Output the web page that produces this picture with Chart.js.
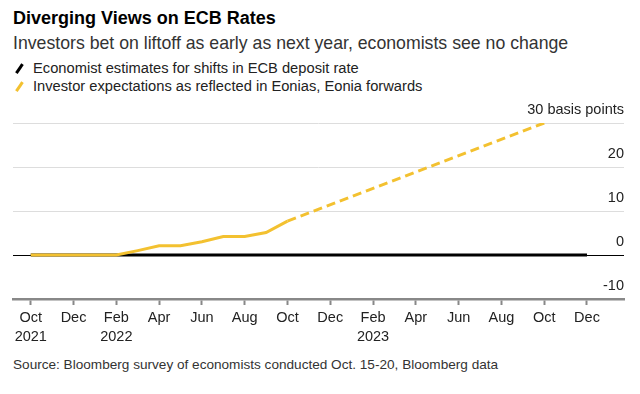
<!DOCTYPE html>
<html>
<head>
<meta charset="utf-8">
<script src="https://cdn.jsdelivr.net/npm/chart.js@4"></script>
<style>
  body { margin: 0; width: 640px; height: 394px; background: #fff; font-family: "Liberation Sans", Arial, sans-serif; color: #222; position: relative; overflow: hidden; }
  .txt { position: absolute; left: 13px; white-space: nowrap; }
  #title { top: 7px; font-size: 18px; line-height: 22px; font-weight: bold; color: #000; }
  #subtitle { top: 32px; font-size: 17.7px; line-height: 22px; color: #333; }
  .leg { font-size: 14.7px; line-height: 18px; color: #222; padding-left: 20px; }
  .leg i { position: absolute; left: 5px; top: 4px; width: 2.5px; height: 11px; transform: rotate(34deg); }
  #leg1 { top: 59px; }
  #leg2 { top: 77px; }
  #source { top: 356px; font-size: 13.6px; line-height: 18px; color: #333; }
  #wrap { position: absolute; left: 0; top: 95px; width: 640px; height: 260px; }
</style>
</head>
<body>
<div id="title" class="txt">Diverging Views on ECB Rates</div>
<div id="subtitle" class="txt">Investors bet on liftoff as early as next year, economists see no change</div>
<div id="leg1" class="txt leg"><i style="background:#000"></i>Economist estimates for shifts in ECB deposit rate</div>
<div id="leg2" class="txt leg"><i style="background:#f3c130"></i>Investor expectations as reflected in Eonias, Eonia forwards</div>
<div id="wrap"><canvas id="chart"></canvas></div>
<div id="source" class="txt">Source: Bloomberg survey of economists conducted Oct. 15-20, Bloomberg data</div>

<script>
// months counted from Oct 2021 (0) to Dec 2023 (26)
const tickMonths = [0, 2, 4, 6, 8, 10, 12, 14, 16, 18, 20, 22, 24, 26];
const tickLabels = [['Oct', '2021'], 'Dec', ['Feb', '2022'], 'Apr', 'Jun', 'Aug', 'Oct', 'Dec', ['Feb', '2023'], 'Apr', 'Jun', 'Aug', 'Oct', 'Dec'];
const yTicks = [-10, 0, 10, 20, 30];

const economistMonths = [0, 26];
const economistValues = [0, 0];

const investorMonths = [0, 1, 2, 3, 4, 5, 6, 7, 8, 9, 10, 11, 12];
const investorValues = [0, 0, 0, 0, 0, 1, 2.1, 2.1, 3, 4.2, 4.2, 5.1, 7.7];

const forwardMonths = [12, 24];
const forwardValues = [7.7, 30];

const yellow = '#f3c130';

function toPoints(xs, ys) {
    return xs.map((x, i) => ({x: x, y: ys[i]}));
}

const ctx = document.getElementById('chart');

new Chart(ctx, {
    type: 'line',
    data: {
        datasets: [{
            label: 'Investor expectations',
            data: toPoints(investorMonths, investorValues),
            borderColor: yellow,
            borderWidth: 3,
            pointRadius: 0,
            order: 1
        }, {
            label: 'Investor forwards',
            data: toPoints(forwardMonths, forwardValues),
            borderColor: yellow,
            borderWidth: 3,
            borderDash: [9, 5],
            pointRadius: 0,
            order: 1
        }, {
            label: 'Economist estimates',
            data: toPoints(economistMonths, economistValues),
            borderColor: '#000',
            borderWidth: 3,
            pointRadius: 0,
            order: 3
        }]
    },
    options: {
        responsive: true,
        maintainAspectRatio: false,
        animation: false,
        layout: {
            padding: {top: 28, left: 13, right: 16, bottom: 0}
        },
        plugins: {
            legend: {display: false},
            tooltip: {enabled: false}
        },
        scales: {
            x: {
                type: 'linear',
                min: -0.83,
                max: 27.73,
                afterBuildTicks: (scale) => {
                    scale.ticks = tickMonths.map(v => ({value: v}));
                },
                afterFit: (scale) => {
                    scale.height = 56;
                },
                ticks: {
                    autoSkip: false,
                    maxRotation: 0,
                    color: '#222',
                    padding: 4,
                    font: {family: '"Liberation Sans", Arial, sans-serif', size: 14.5, lineHeight: 1.3},
                    callback: (v) => tickLabels[tickMonths.indexOf(v)]
                },
                grid: {
                    drawOnChartArea: false,
                    drawTicks: true,
                    tickLength: 6,
                    tickColor: '#888',
                    tickWidth: 2
                },
                border: {color: '#888', width: 2.5}
            },
            y: {
                position: 'right',
                min: -10,
                max: 30,
                afterBuildTicks: (scale) => {
                    scale.ticks = yTicks.map(v => ({value: v}));
                },
                afterFit: (scale) => {
                    scale.width = 0;
                },
                ticks: {
                    mirror: true,
                    padding: 0,
                    labelOffset: -13,
                    color: '#222',
                    font: {family: '"Liberation Sans", Arial, sans-serif', size: 14.5},
                    callback: (v) => v === 30 ? '30 basis points' : v
                },
                grid: {
                    drawTicks: false,
                    lineWidth: 1,
                    color: (c) => c.tick && c.tick.value === 0 ? '#000' : '#ddd'
                },
                border: {display: false}
            }
        }
    }
});
</script>
</body>
</html>
